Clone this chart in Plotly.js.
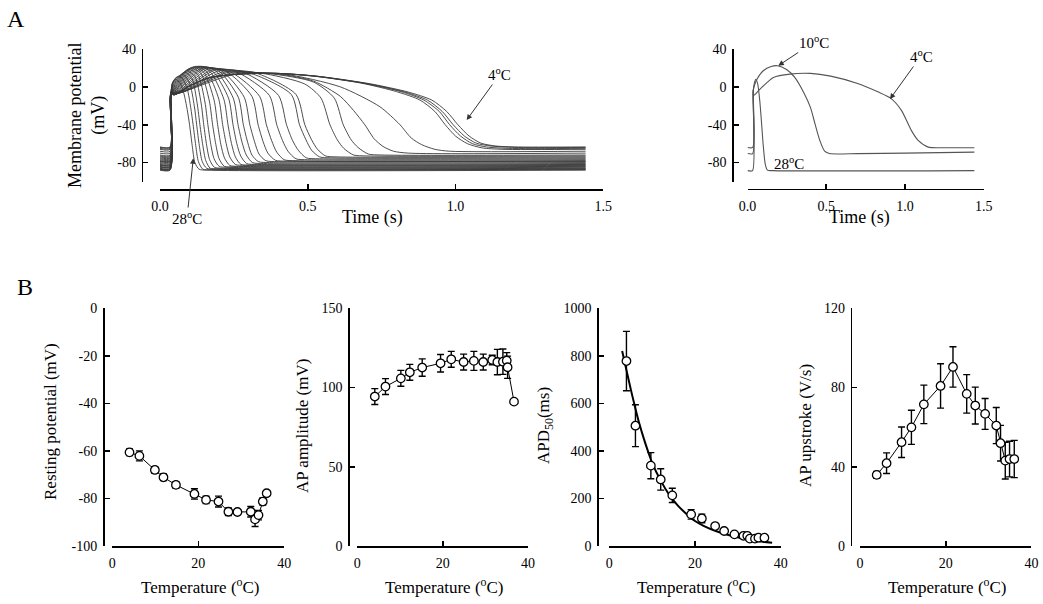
<!DOCTYPE html>
<html><head><meta charset="utf-8">
<script src="https://cdn.plot.ly/plotly-3.0.1.min.js"></script>
<style>html,body{margin:0;padding:0;background:#fff}#chart{width:1043px;height:604px}</style>
</head><body><div id="chart"></div>
<script>
// ---------- Panel A (left): family of action potentials, 28 °C (fastest) ... 4 °C (slowest); [time s, mV]
const familyTraces = [
  [[0,-88],[0.034,-88],[0.037,-8],[0.042,4],[0.052,8],[0.066,5],[0.08,-6],[0.092,-24],[0.1,-40],[0.109,-62],[0.118,-80],[0.132,-87],[0.16,-88],[1.44,-88]],
  [[0,-87.5],[0.034,-87.5],[0.037,-8],[0.042,4],[0.055,10],[0.072,10],[0.092,-2],[0.104,-22],[0.112,-40],[0.121,-62],[0.13,-79],[0.145,-87],[0.175,-87.5],[1.44,-87.5]],
  [[0,-87],[0.034,-87],[0.037,-8],[0.042,3],[0.056,10],[0.078,13],[0.1,4],[0.116,-20],[0.124,-40],[0.133,-62],[0.143,-79],[0.158,-86],[0.19,-87],[1.44,-87]],
  [[0,-86.5],[0.034,-86.5],[0.037,-8],[0.042,2],[0.057,9],[0.084,15.5],[0.108,9],[0.126,-18],[0.135,-40],[0.145,-62],[0.155,-78],[0.17,-86],[0.2,-86.5],[1.44,-86.5]],
  [[0,-86],[0.034,-86],[0.037,-8],[0.043,1],[0.058,8],[0.09,17],[0.118,11],[0.139,-17],[0.148,-40],[0.158,-62],[0.168,-77],[0.184,-85],[0.215,-86],[1.44,-86]],
  [[0,-85],[0.034,-85],[0.037,-8],[0.043,0],[0.059,7],[0.095,18.5],[0.128,13],[0.152,-16],[0.162,-40],[0.172,-61],[0.183,-76],[0.2,-84],[0.23,-85],[1.44,-85]],
  [[0,-84.5],[0.034,-84.5],[0.037,-8],[0.044,-1],[0.06,6],[0.1,19.5],[0.138,14.5],[0.167,-15],[0.178,-40],[0.189,-61],[0.2,-76],[0.218,-84],[0.25,-84.5],[1.44,-84.5]],
  [[0,-84],[0.034,-84],[0.037,-8],[0.044,-2],[0.061,5],[0.106,20.5],[0.148,15.5],[0.183,-14],[0.195,-40],[0.206,-61],[0.218,-75],[0.236,-83],[0.27,-84],[1.44,-84]],
  [[0,-83],[0.034,-83],[0.037,-8],[0.045,-3],[0.062,4],[0.112,21],[0.158,16],[0.199,-13],[0.212,-40],[0.224,-60],[0.236,-74],[0.255,-82],[0.29,-83],[1.44,-83]],
  [[0,-82.5],[0.034,-82.5],[0.037,-8],[0.045,-3],[0.063,3],[0.118,21.5],[0.168,16.5],[0.216,-13],[0.23,-40],[0.242,-60],[0.255,-74],[0.274,-82],[0.31,-82.5],[1.44,-82.5]],
  [[0,-82],[0.034,-82],[0.037,-8],[0.045,-4],[0.064,2],[0.124,21.5],[0.178,16.5],[0.232,-12],[0.247,-40],[0.26,-60],[0.273,-73],[0.293,-81],[0.33,-82],[1.44,-82]],
  [[0,-81],[0.034,-81],[0.037,-8],[0.046,-4],[0.065,1],[0.13,21.5],[0.188,17],[0.248,-12],[0.264,-40],[0.278,-59],[0.292,-72],[0.313,-80],[0.35,-81],[1.44,-81]],
  [[0,-80],[0.034,-80],[0.037,-8],[0.046,-5],[0.066,0],[0.136,21],[0.198,17],[0.265,-11],[0.282,-40],[0.297,-59],[0.311,-72],[0.333,-79],[0.37,-80],[1.44,-80]],
  [[0,-79],[0.034,-79],[0.037,-8],[0.046,-5],[0.067,-1],[0.142,20.5],[0.21,16.5],[0.285,-11],[0.304,-40],[0.32,-58],[0.335,-71],[0.358,-78],[0.4,-79],[1.44,-79]],
  [[0,-78.5],[0.034,-78.5],[0.037,-8],[0.046,-6],[0.068,-2],[0.148,20],[0.225,16],[0.311,-10],[0.332,-40],[0.349,-58],[0.365,-70],[0.39,-77.5],[0.43,-78.5],[1.44,-78.5]],
  [[0,-78],[0.034,-78],[0.037,-8],[0.047,-6],[0.07,-3],[0.155,19.5],[0.24,15.5],[0.337,-10],[0.36,-40],[0.378,-57],[0.395,-69],[0.42,-77],[0.46,-78],[1.44,-78]],
  [[0,-77],[0.034,-77],[0.037,-8],[0.047,-6.5],[0.072,-3.5],[0.165,19],[0.26,15.5],[0.37,-9],[0.395,-40],[0.415,-57],[0.433,-68],[0.46,-76],[0.5,-77],[1.44,-77]],
  [[0,-76],[0.034,-76],[0.037,-8],[0.047,-7],[0.074,-4],[0.175,18],[0.28,15.5],[0.401,-9],[0.428,-40],[0.449,-57],[0.468,-67],[0.495,-75],[0.54,-76],[1.44,-76]],
  [[0,-75],[0.034,-75],[0.037,-8],[0.047,-7],[0.076,-4.5],[0.185,17.5],[0.3,15],[0.444,-8],[0.472,-40],[0.494,-56],[0.513,-67],[0.54,-74],[0.58,-75],[1.44,-75]],
  [[0,-74],[0.034,-74],[0.037,-8],[0.047,-7],[0.078,-5],[0.195,16.5],[0.32,15],[0.46,-8],[0.49,-40],[0.513,-56],[0.533,-66],[0.56,-73],[0.6,-74],[1.44,-74]],
  [[0,-73],[0.034,-73],[0.037,-7],[0.047,-7.5],[0.08,-5],[0.21,15.5],[0.34,14.5],[0.49,3],[0.545,-12],[0.575,-40],[0.6,-56],[0.622,-65],[0.655,-72],[0.7,-73],[1.44,-73]],
  [[0,-72],[0.034,-72],[0.037,-7],[0.047,-7.5],[0.082,-5],[0.225,15],[0.37,14],[0.52,5],[0.59,-12],[0.62,-40],[0.647,-56],[0.67,-64],[0.705,-71],[0.75,-72],[1.44,-72]],
  [[0,-70],[0.034,-70],[0.037,-7],[0.047,-8],[0.085,-4.5],[0.24,14.5],[0.4,13.5],[0.52,6],[0.61,-10],[0.655,-25],[0.693,-40],[0.725,-55],[0.755,-63],[0.79,-68],[0.84,-70],[1.44,-70]],
  [[0,-68],[0.034,-68],[0.037,-7],[0.047,-8],[0.09,-4],[0.26,14],[0.42,13.5],[0.61,0],[0.744,-21],[0.812,-40],[0.85,-54],[0.885,-61],[0.93,-66],[0.98,-68],[1.44,-68]],
  [[0,-66],[0.034,-66],[0.037,-6],[0.047,-8.5],[0.1,1],[0.165,9.5],[0.27,13.5],[0.4,14.2],[0.528,11],[0.68,4],[0.8,-5],[0.88,-14],[0.93,-26],[0.965,-40],[1.0,-52],[1.04,-60],[1.09,-64.5],[1.16,-66],[1.44,-66]],
  [[0,-65],[0.034,-65],[0.037,-6],[0.047,-8.5],[0.1,1],[0.165,9.5],[0.27,13.5],[0.4,14.2],[0.528,11.2],[0.69,3.8],[0.815,-5],[0.893,-14],[0.945,-26],[0.98,-40],[1.017,-52],[1.057,-60],[1.105,-63.5],[1.18,-65],[1.44,-65]],
  [[0,-64],[0.034,-64],[0.037,-6],[0.047,-8.5],[0.1,1],[0.165,9.5],[0.27,13.5],[0.4,14.2],[0.528,11.3],[0.699,3.5],[0.827,-5.3],[0.905,-14],[0.955,-26],[0.992,-40],[1.03,-52],[1.07,-59.5],[1.12,-62.5],[1.2,-64],[1.44,-64]],
  [[0,-63.5],[0.034,-63.5],[0.037,-6],[0.047,-8.5],[0.1,1],[0.165,9.5],[0.27,13.5],[0.4,14.2],[0.528,11.4],[0.71,3.3],[0.84,-5.5],[0.92,-14],[0.97,-26],[1.008,-40],[1.046,-52],[1.086,-59.5],[1.136,-62.5],[1.21,-63.5],[1.44,-63.5]]
];

// ---------- Panel A (right): three selected action potentials; [time s, mV]
const ap28 = [[0,-88.5],[0.032,-88.5],[0.036,-5],[0.045,5],[0.053,8],[0.065,3],[0.078,-15],[0.09,-40],[0.1,-62],[0.113,-82],[0.126,-88],[0.16,-88.5],[1.44,-88.5]];
const ap10 = [[0,-70.5],[0.033,-70.5],[0.036,-4],[0.045,2],[0.06,8],[0.1,17],[0.15,21.5],[0.19,22.3],[0.25,18],[0.3,10],[0.36,-7],[0.4,-22],[0.43,-40],[0.46,-57],[0.49,-68],[0.52,-70.5],[0.7,-70.5],[1.0,-70],[1.44,-69]];
const ap4  = [[0,-64],[0.033,-64],[0.036,-3],[0.042,-8.8],[0.07,-4],[0.12,4],[0.165,10],[0.27,13.5],[0.4,14.2],[0.528,11.3],[0.699,3.5],[0.827,-5.3],[0.912,-12.4],[0.977,-24.8],[1.04,-46],[1.083,-56.6],[1.147,-63.7],[1.25,-64.3],[1.44,-64.4]];

// ---------- Panel B data (temperature in °C)
const restT   = [4.0, 6.3, 9.9, 11.9, 14.8, 19.1, 21.8, 24.7, 27.0, 29.1, 32.2, 33.2, 34.0, 35.0, 35.9];
const restV   = [-60.6, -62.1, -68.0, -71.1, -74.3, -78.1, -80.6, -81.3, -85.6, -85.7, -85.6, -88.8, -87.0, -81.3, -77.8];
const restErr = [1.4, 2.1, 1.4, 1.4, 1.4, 2.2, 1.5, 2.3, 1.6, 1.0, 2.2, 3.0, 2.0, 1.5, 1.0];

const ampT   = [4.1, 6.6, 10.2, 12.3, 15.2, 19.5, 22.0, 24.9, 27.3, 29.5, 31.6, 32.8, 34.1, 35.0, 35.2, 36.7];
const ampV   = [94.3, 100.6, 105.8, 109.6, 112.6, 115.3, 117.8, 116.1, 116.8, 116.1, 117.4, 116.1, 116.3, 117.0, 112.8, 91.1];
const ampErr = [5, 5, 5, 5, 5.5, 5.5, 5, 5, 6, 5, 3, 8, 8, 5, 7, 0];

const apdT   = [4.0, 6.1, 9.7, 12.0, 14.7, 19.1, 21.6, 24.7, 26.8, 29.2, 31.3, 32.2, 32.8, 34.0, 34.8, 36.2];
const apdV   = [778, 506, 338, 280, 213, 133, 116, 84, 63, 49, 43, 43, 31, 31, 35, 35];
const apdErr = [125, 88, 55, 45, 30, 20, 18, 8, 6, 5, 5, 5, 4, 4, 4, 4];
const apdFitT = [3.0, 4, 5, 6, 7, 8, 9, 10, 12, 14, 16, 18, 20, 22, 25, 28, 31, 34, 38];
const apdFitV = [820, 740, 660, 585, 515, 455, 400, 350, 275, 215, 170, 135, 105, 85, 62, 45, 32, 22, 14];

const upT   = [3.9, 6.2, 9.7, 12.0, 14.9, 18.8, 21.7, 24.9, 26.9, 29.2, 31.8, 32.8, 33.9, 34.9, 36.0];
const upV   = [35.9, 41.8, 52.4, 59.9, 71.5, 80.8, 90.4, 76.8, 70.9, 66.7, 60.8, 51.9, 43.1, 43.9, 43.9];
const upErr = [1.7, 5.2, 7.7, 8.6, 9.7, 11.2, 10.2, 9.7, 9.3, 7.8, 9.1, 9, 9.3, 9, 9.4];

// ---------- tick labels (hyphen minus as in the original)
const timeTicks = [0, 0.5, 1.0, 1.5];
const timeTickText = ['0.0', '0.5', '1.0', '1.5'];
const mvTicks = [-80, -40, 0, 40];
const mvTickText = ['-80', '-40', '0', '40'];
const restTicks = [-100, -80, -60, -40, -20, 0];
const restTickText = ['-100', '-80', '-60', '-40', '-20', '0'];
const tempTicks = [0, 20, 40];

// ---------- layout helpers
const W = 1043, H = 604;
const FONT = 'Liberation Serif, Times New Roman, serif';
const px = x => x / W, py = y => 1 - y / H;

const axBase = {
  showline: true, linecolor: '#000', linewidth: 1.6,
  ticks: 'inside', ticklen: 5, tickwidth: 1.6, tickcolor: '#000',
  showgrid: false, zeroline: false, fixedrange: true,
  tickfont: {family: FONT, size: 14, color: '#000'}
};
function yAx(top, bot, xpos, range, tickvals, ticktext) {
  const a = Object.assign({}, axBase, {domain: [py(bot), py(top)], range, anchor: 'free', position: px(xpos), tickvals, ticklabelstandoff: 3});
  if (ticktext) a.ticktext = ticktext;
  return a;
}
function xAx(left, right, ypos, range, tickvals, ticktext) {
  const a = Object.assign({}, axBase, {domain: [px(left), px(right)], range, anchor: 'free', position: py(ypos), tickvals, ticklabelstandoff: 4});
  if (ticktext) a.ticktext = ticktext;
  return a;
}

const traces = [];
const lineStyle = {color: '#3a3a3a', width: 0.9, shape: 'spline', smoothing: 0.7};
familyTraces.forEach(tr => traces.push({
  x: tr.map(p => p[0]), y: tr.map(p => p[1]), xaxis: 'x', yaxis: 'y',
  mode: 'lines', line: lineStyle, hoverinfo: 'skip', showlegend: false
}));
[ap28, ap10, ap4].forEach(tr => traces.push({
  x: tr.map(p => p[0]), y: tr.map(p => p[1]), xaxis: 'x2', yaxis: 'y2',
  mode: 'lines', line: {color: '#555', width: 1.1, shape: 'spline', smoothing: 0.7}, hoverinfo: 'skip', showlegend: false
}));

function series(x, y, err, xa, ya, withLine) {
  return {
    x, y, xaxis: xa, yaxis: ya, mode: withLine ? 'lines+markers' : 'markers', showlegend: false,
    line: {color: '#000', width: 1},
    marker: {symbol: 'circle', size: 8.5, color: '#fff', line: {color: '#000', width: 1.3}},
    error_y: {type: 'data', array: err, visible: true, color: '#000', thickness: 1.4, width: 3.5}
  };
}
traces.push(series(restT, restV, restErr, 'x3', 'y3', true));
traces.push(series(ampT, ampV, ampErr, 'x4', 'y4', true));
traces.push({x: apdFitT, y: apdFitV, xaxis: 'x5', yaxis: 'y5', mode: 'lines', showlegend: false,
  line: {color: '#000', width: 2, shape: 'spline', smoothing: 0.8}});
traces.push(series(apdT, apdV, apdErr, 'x5', 'y5', false));
traces.push(series(upT, upV, upErr, 'x6', 'y6', true));

const bTop = 308.3, bBot = 546;
const layout = {
  width: W, height: H, autosize: false,
  margin: {l: 0, r: 0, t: 0, b: 0, pad: 0},
  paper_bgcolor: '#fff', plot_bgcolor: 'rgba(0,0,0,0)',
  font: {family: FONT, color: '#000'},
  showlegend: false,
  xaxis:  xAx(160, 603.3, 189, [0, 1.5], timeTicks, timeTickText),
  yaxis:  yAx(49, 181.5, 141.7, [-100, 40], mvTicks, mvTickText),
  xaxis2: xAx(747.5, 983.8, 188.5, [0, 1.5], timeTicks, timeTickText),
  yaxis2: yAx(49, 181.5, 732.3, [-100, 40], mvTicks, mvTickText),
  xaxis3: xAx(112.3, 284.3, bBot, [0, 40], tempTicks),
  yaxis3: yAx(bTop, bBot, 103, [-100, 0], restTicks, restTickText),
  xaxis4: xAx(357.3, 528.1, bBot, [0, 40], tempTicks),
  yaxis4: yAx(bTop, bBot, 348.3, [0, 150], [0, 50, 100, 150]),
  xaxis5: xAx(609.3, 780.7, bBot, [0, 40], tempTicks),
  yaxis5: yAx(bTop, bBot, 597.3, [0, 1000], [0, 200, 400, 600, 800, 1000]),
  xaxis6: xAx(860, 1031.4, bBot, [0, 40], tempTicks),
  yaxis6: yAx(bTop, bBot, 850.7, [0, 120], [0, 40, 80, 120]),
  annotations: []
};

function txt(text, x, y, size, angle) {
  layout.annotations.push({text, x: px(x), y: py(y), xref: 'paper', yref: 'paper', showarrow: false,
    xanchor: 'center', yanchor: 'middle', textangle: angle || 0, font: {family: FONT, size, color: '#000'}});
}
function arrowTxt(text, tx, ty, hx, hy, size) {
  layout.annotations.push({text, x: px(hx), y: py(hy), xref: 'paper', yref: 'paper',
    ax: tx - hx, ay: ty - hy, axref: 'pixel', ayref: 'pixel', showarrow: true,
    arrowhead: 2, arrowsize: 1.1, arrowwidth: 1, arrowcolor: '#333',
    font: {family: FONT, size, color: '#000'}});
}

txt('A', 16, 19, 24);
txt('B', 25, 287, 24);
txt('Membrane potential<br>(mV)', 87, 116, 18, -90);
txt('Time (s)', 372, 218, 18);
txt('Time (s)', 859, 218, 18);
arrowTxt('4<sup>o</sup>C', 500, 74, 466.7, 120, 15);
arrowTxt('28<sup>o</sup>C', 187, 218, 193.3, 158.3, 15);
arrowTxt('10<sup>o</sup>C', 814, 42, 778.3, 65.7, 15);
arrowTxt('4<sup>o</sup>C', 921, 56, 890, 99, 15);
txt('28<sup>o</sup>C', 789, 163, 15);

txt('Resting potential (mV)', 50, 422, 17, -90);
txt('AP amplitude (mV)', 302, 426, 17, -90);
txt('APD<sub>50</sub>(ms)', 545, 426, 17, -90);
txt('AP upstroke (V/s)', 805, 426, 17, -90);
txt('Temperature (<sup>o</sup>C)', 200, 586, 17);
txt('Temperature (<sup>o</sup>C)', 444, 586, 17);
txt('Temperature (<sup>o</sup>C)', 696, 586, 17);
txt('Temperature (<sup>o</sup>C)', 947, 586, 17);

Plotly.newPlot('chart', traces, layout, {staticPlot: true, displayModeBar: false});
</script>
</body></html>
